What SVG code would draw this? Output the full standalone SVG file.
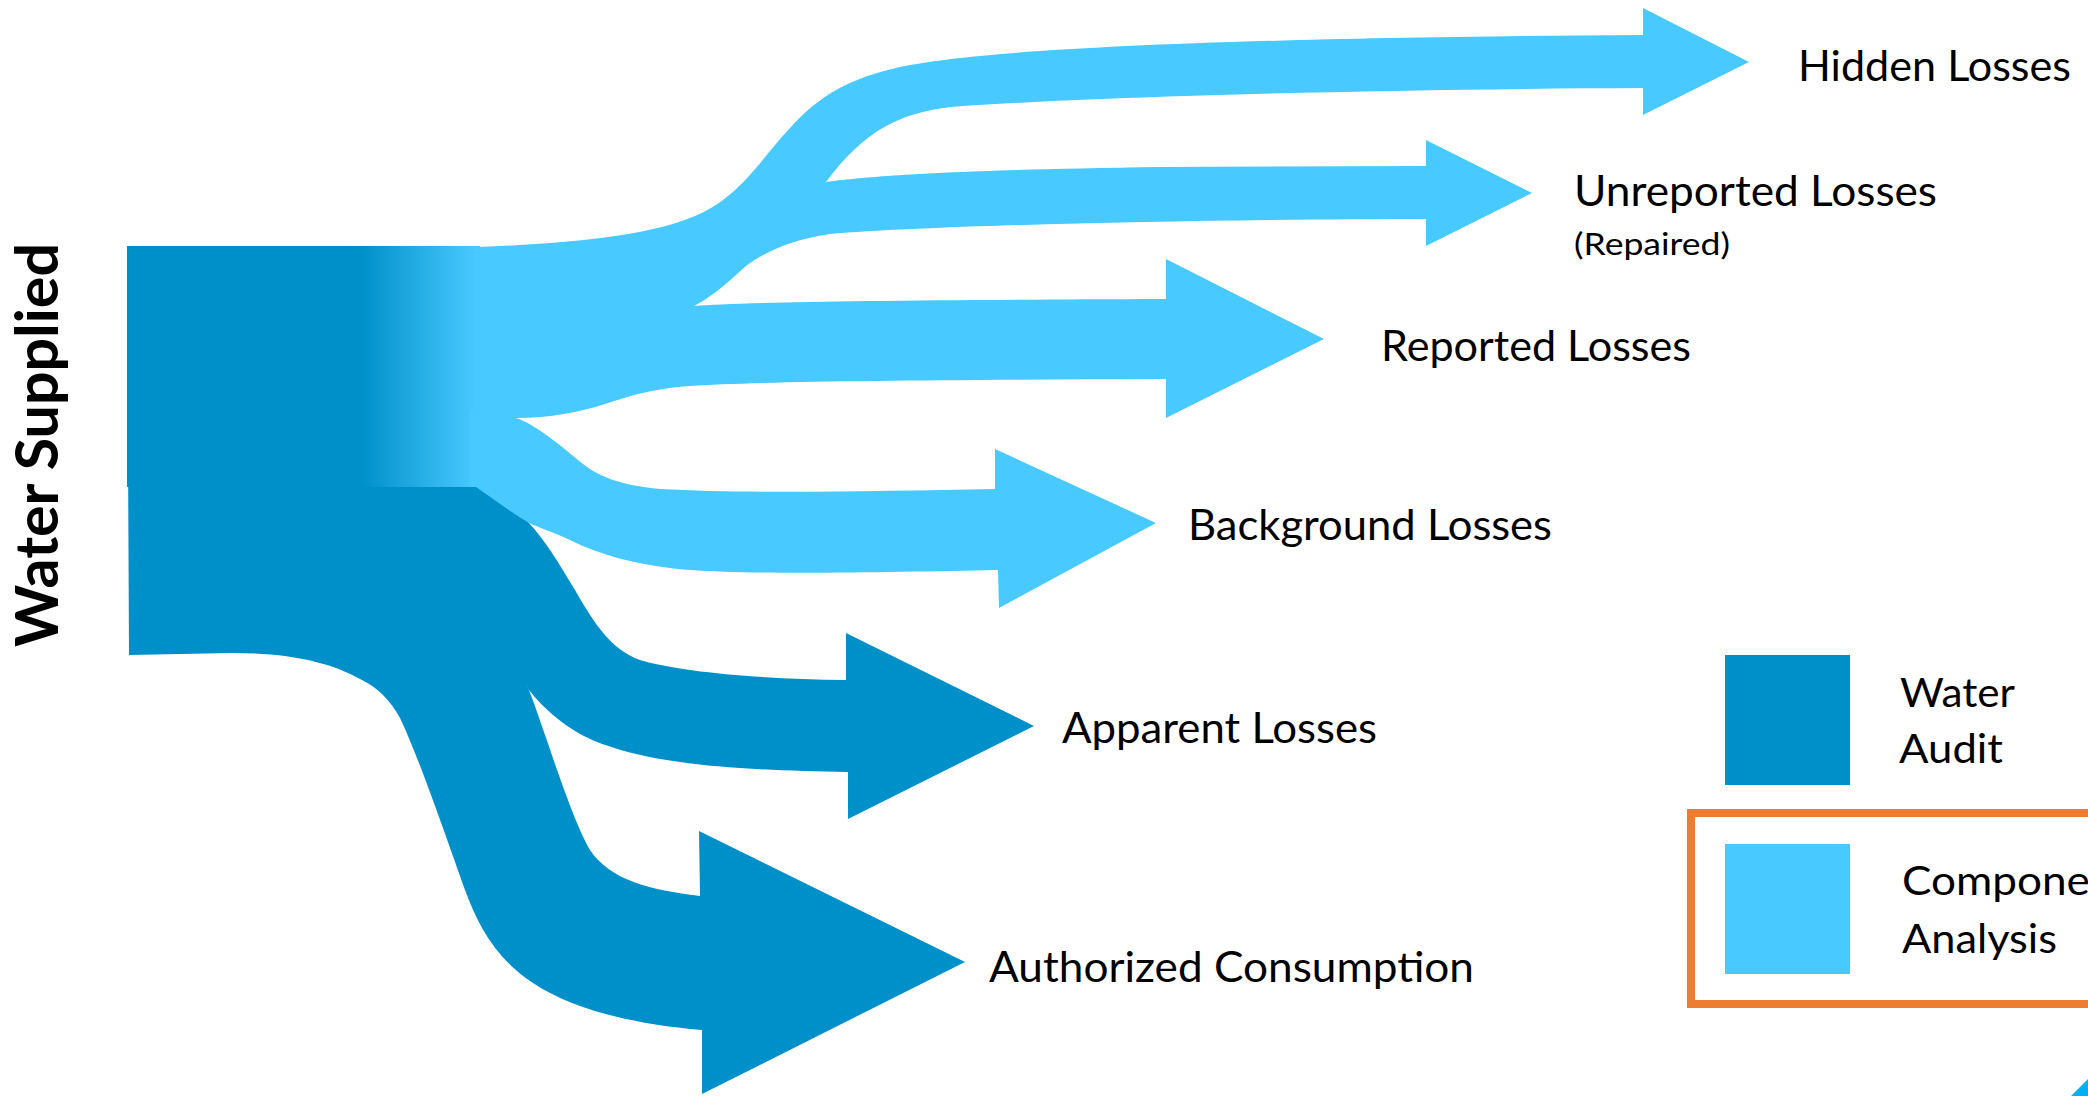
<svg xmlns="http://www.w3.org/2000/svg" width="2088" height="1096" viewBox="0 0 2088 1096">
  <style>
    .dark { fill: #0090C9; }
    .light { fill: #48C9FF; }
    .lbl { font-family: Lato, "Open Sans", "Liberation Sans", sans-serif; font-size: 43px; fill: #000000; }
    .sub { font-family: Lato, "Open Sans", "Liberation Sans", sans-serif; font-size: 30px; fill: #000000; }
    .leg { font-family: Lato, "Open Sans", "Liberation Sans", sans-serif; font-size: 40px; fill: #000000; }
    .title { font-family: Lato, "Open Sans", "Liberation Sans", sans-serif; font-size: 60px; font-weight: 700; fill: #000000; }
  </style>
  <defs>
    <linearGradient id="srcGrad" x1="127" y1="0" x2="480" y2="0" gradientUnits="userSpaceOnUse">
      <stop offset="0" stop-color="#0090C9"/>
      <stop offset="0.663" stop-color="#0090C9"/>
      <stop offset="0.986" stop-color="#48C9FF"/>
      <stop offset="1" stop-color="#48C9FF"/>
    </linearGradient>
  </defs>
  <rect width="2088" height="1096" fill="#FFFFFF"/>

  <!-- source node: dark base -->
  <g id="water-supplied-base">
    <path class="dark" d="M 127 246 L 480 246 L 480 640 L 232 653 L 129 655 Z"/>
  </g>

  <!-- connectors (flows) -->
  <g id="connectors">
    <path id="flow-authorized" class="dark" d="M 478 600 L 529 690 C 548 740, 570 815, 590 850 C 610 880, 650 890, 700 896 L 699 831 L 965 962 L 702 1094 L 702 1030 C 630 1024, 570 1008, 533 983 C 495 958, 478 925, 465 890 C 450 848, 420 760, 400 718 C 390 700, 378 688, 362 680 C 330 662, 290 653, 232 653 L 200 653 L 200 600 Z"/>
    <path id="flow-apparent" class="dark" d="M 478 470 L 529 523 C 545 540, 560 565, 575 590 C 595 625, 612 650, 640 660 C 680 672, 760 679, 846 680 L 846 633 L 1034 726 L 848 819 L 848 772 C 780 771, 720 768, 680 762 C 635 756, 600 745, 580 734 C 560 722, 545 710, 529 690 L 478 620 Z"/>
  </g>

  <!-- source node: gradient top part -->
  <g id="water-supplied">
    <rect x="127" y="246" width="353" height="241" fill="url(#srcGrad)"/>
    <text class="title" transform="translate(58,445) rotate(-90)" text-anchor="middle" textLength="404" lengthAdjust="spacingAndGlyphs">Water Supplied</text>
  </g>

  <g id="connectors-light">
    <path id="flow-hidden" class="light" d="M 478 247 C 580 243, 650 235, 695 216 C 740 197, 760 160, 790 128 C 820 95, 850 78, 900 67 C 980 50, 1200 38, 1643 35 L 1643 8 L 1749 62 L 1643 115 L 1643 88 C 1400 89, 1100 96, 951 107 C 900 113, 865 130, 826 182 L 720 250 L 478 300 Z"/>
    <path id="flow-unreported" class="light" d="M 478 260 L 720 235 L 826 182 C 870 176, 950 170, 1160 167 L 1426 166 L 1426 140 L 1532 193 L 1426 246 L 1426 219 C 1250 219, 950 224, 830 234 C 790 240, 765 252, 746 266 C 725 285, 710 298, 694 306 L 600 350 L 478 370 Z"/>
    <path id="flow-reported" class="light" d="M 478 300 L 694 306 C 740 302, 900 300, 1166 299 L 1166 259 L 1324 339 L 1166 418 L 1166 379 C 950 380, 760 381, 690 386 C 650 389, 630 396, 605 404 C 580 412, 550 418, 516 418 L 478 430 Z"/>
    <path id="flow-background" class="light" d="M 516 418 C 535 424, 560 445, 578 460 C 598 477, 620 485, 660 489 C 750 494, 880 491, 995 489 L 995 449 L 1156 523 L 999 608 L 998 570 C 900 572, 760 575, 690 570 C 640 566, 600 555, 570 540 C 555 533, 540 528, 529 523 C 512 513, 495 500, 476 487 L 470 487 L 470 412 Z"/>
  </g>

  <!-- target nodes -->
  <g id="node-hidden"><text class="lbl" x="1798" y="81" textLength="273" lengthAdjust="spacingAndGlyphs">Hidden Losses</text></g>
  <g id="node-unreported">
    <text class="lbl" x="1574" y="206" textLength="363" lengthAdjust="spacingAndGlyphs">Unreported Losses</text>
    <text class="sub" x="1574" y="255" textLength="156" lengthAdjust="spacingAndGlyphs">(Repaired)</text>
  </g>
  <g id="node-reported"><text class="lbl" x="1381" y="361" textLength="310" lengthAdjust="spacingAndGlyphs">Reported Losses</text></g>
  <g id="node-background"><text class="lbl" x="1188" y="540" textLength="364" lengthAdjust="spacingAndGlyphs">Background Losses</text></g>
  <g id="node-apparent"><text class="lbl" x="1062" y="743" textLength="315" lengthAdjust="spacingAndGlyphs">Apparent Losses</text></g>
  <g id="node-authorized"><text class="lbl" x="989" y="982" textLength="485" lengthAdjust="spacingAndGlyphs">Authorized Consumption</text></g>

  <!-- legend -->
  <g id="legend-water-audit">
    <rect class="dark" x="1725" y="655" width="125" height="130"/>
    <text class="leg" x="1900" y="707" textLength="115" lengthAdjust="spacingAndGlyphs">Water</text>
    <text class="leg" x="1899" y="763" textLength="104" lengthAdjust="spacingAndGlyphs">Audit</text>
  </g>
  <g id="legend-component-analysis">
    <rect x="1691" y="813" width="420" height="191" fill="none" stroke="#ED7D31" stroke-width="8"/>
    <rect class="light" x="1725" y="844" width="125" height="130"/>
    <text class="leg" x="1902" y="895" textLength="228" lengthAdjust="spacingAndGlyphs">Component</text>
    <text class="leg" x="1902" y="953" textLength="155" lengthAdjust="spacingAndGlyphs">Analysis</text>
  </g>
  <g id="corner-mark">
    <polygon points="2071,1096 2088,1079 2088,1096" fill="#00B0F0"/>
  </g>
</svg>
